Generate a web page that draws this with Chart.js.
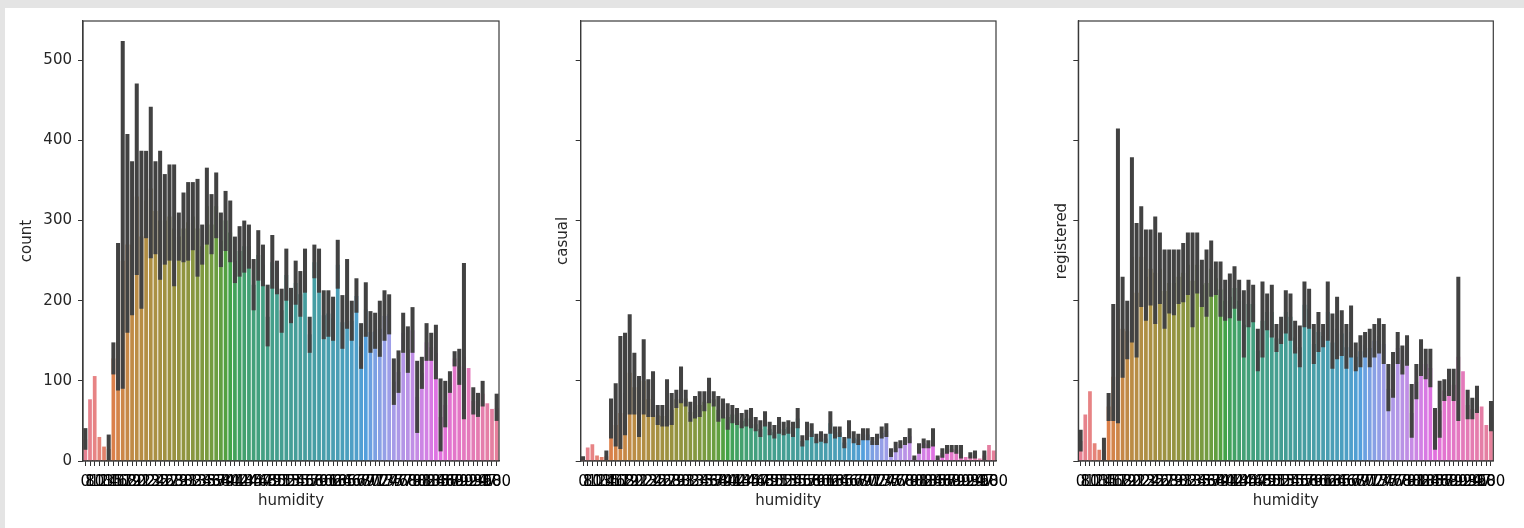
<!DOCTYPE html>
<html>
<head>
<meta charset="utf-8">
<script src="https://cdn.jsdelivr.net/npm/chart.js@4/dist/chart.umd.min.js"></script>
<style>
  body { margin: 0; width: 1524px; height: 528px; overflow: hidden; position: relative; background: #e4e4e4; }
  #fig { position: absolute; left: 5px; top: 8px; right: 0; bottom: 0; background: #fff; }
  canvas { position: absolute; top: 0; }
</style>
</head>
<body>
<div id="fig"></div>
<canvas id="c1" width="530" height="528" style="left:0"></canvas>
<canvas id="c2" width="500" height="528" style="left:530px"></canvas>
<canvas id="c3" width="494" height="528" style="left:1030px"></canvas>
<script>
// humidity categories (x axis)
const humidity = [0, 8, 10, 12, 13, 14, 15, 16, 17, 18, 19, 20, 21, 22, 23, 24, 25, 26, 27, 28,
  29, 30, 31, 32, 33, 34, 35, 36, 37, 38, 39, 40, 41, 42, 43, 44, 45, 46, 47, 48,
  49, 50, 51, 52, 53, 54, 55, 56, 57, 58, 59, 60, 61, 62, 63, 64, 65, 66, 67, 68,
  69, 70, 71, 72, 73, 74, 75, 76, 77, 78, 79, 80, 81, 82, 83, 84, 85, 86, 87, 88,
  89, 90, 92, 93, 94, 96, 97, 98, 100];

// mean rentals per humidity value, with 95% CI (null = single observation)
const countMean = [27, 77, 106, 30, 18, 15, 128, 150, 250, 270, 270, 330, 280, 325, 340, 312, 300, 300, 305, 290,
  280, 290, 298, 305, 290, 268, 318, 295, 318, 275, 300, 285, 250, 262, 268, 268, 220, 257, 245, 180,
  248, 230, 188, 232, 195, 222, 208, 238, 158, 248, 238, 182, 184, 178, 245, 173, 208, 175, 206, 143,
  189, 161, 162, 165, 181, 183, 99, 111, 160, 139, 163, 80, 110, 148, 142, 135, 55, 70, 98, 128,
  118, 130, 116, 75, 70, 84, 72, 65, 66];
const countLo = [14, null, null, null, null, 0, 108, 88, 90, 160, 182, 232, 190, 278, 253, 258, 226, 245, 250, 218,
  250, 248, 250, 263, 230, 245, 270, 258, 278, 242, 262, 248, 222, 230, 235, 240, 188, 225, 218, 143,
  215, 208, 160, 200, 172, 195, 180, 210, 135, 228, 210, 152, 155, 150, 215, 140, 165, 150, 185, 115,
  155, 135, 140, 130, 150, 158, 70, 85, 135, 110, 135, 35, 90, 125, 125, 102, 12, 42, 85, 118,
  95, 52, null, 58, 55, 68, null, null, 50];
const countHi = [41, null, null, null, null, 33, 148, 272, 524, 408, 374, 471, 387, 387, 442, 374, 387, 358, 370, 370,
  310, 335, 348, 348, 352, 295, 366, 333, 360, 310, 337, 325, 280, 293, 300, 295, 252, 288, 270, 220,
  282, 250, 215, 265, 216, 250, 237, 265, 180, 270, 265, 213, 213, 205, 276, 207, 252, 200, 228, 172,
  223, 187, 185, 200, 213, 208, 128, 138, 185, 168, 192, 125, 130, 172, 160, 170, 103, 100, 112, 137,
  140, 247, null, 92, 85, 100, null, null, 84];

const casualMean = [3, 17, 21, 7, 5, 6, 50, 45, 60, 85, 110, 92, 62, 100, 77, 82, 57, 56, 70, 64,
  77, 94, 78, 61, 67, 70, 74, 88, 77, 64, 65, 55, 58, 55, 50, 53, 53, 46, 40, 52,
  40, 36, 44, 40, 42, 39, 53, 25, 37, 38, 28, 30, 28, 47, 35, 36, 23, 39, 29, 27,
  33, 33, 25, 27, 35, 38, 10, 17, 21, 25, 31, 4, 15, 22, 21, 29, 4, 10, 14, 15,
  14, 11, 5, 7, 8, 3, 7, 20, 13];
const casualLo = [1, null, null, null, null, 1, 28, 18, 15, 32, 58, 58, 30, 58, 55, 55, 45, 43, 43, 45,
  66, 72, 68, 49, 53, 55, 62, 72, 68, 49, 53, 39, 47, 45, 41, 43, 41, 37, 30, 43,
  32, 28, 34, 32, 34, 30, 41, 18, 26, 30, 22, 24, 22, 34, 28, 30, 16, 28, 22, 20,
  26, 26, 20, 20, 28, 30, 5, 11, 16, 20, 22, 1, 9, 16, 16, 18, 1, 4, 9, 11,
  9, 3, null, 3, 3, null, 1, null, null];
const casualHi = [6, null, null, null, null, 13, 78, 97, 156, 160, 183, 135, 106, 152, 102, 112, 70, 70, 102, 85,
  89, 118, 89, 74, 81, 87, 87, 104, 87, 81, 78, 72, 70, 66, 60, 64, 66, 55, 51, 62,
  49, 45, 55, 49, 51, 49, 66, 32, 49, 47, 34, 37, 34, 62, 43, 43, 30, 51, 37, 34,
  41, 41, 30, 34, 43, 47, 16, 24, 26, 30, 41, 7, 22, 28, 26, 41, 7, 16, 20, 20,
  20, 20, null, 11, 13, null, 13, null, null];

const registeredMean = [25, 58, 87, 22, 14, 13, 68, 105, 190, 165, 162, 255, 210, 255, 230, 240, 235, 240, 212, 222,
  222, 230, 235, 245, 225, 245, 220, 222, 240, 228, 214, 200, 205, 216, 200, 170, 196, 196, 138, 175,
  186, 186, 153, 163, 186, 180, 154, 142, 195, 190, 146, 161, 156, 186, 148, 165, 159, 142, 161, 130,
  137, 145, 141, 150, 156, 146, 90, 107, 141, 126, 138, 60, 99, 129, 121, 116, 38, 63, 88, 98,
  95, 130, 112, 70, 65, 77, 68, 45, 55];
const registeredLo = [12, null, null, null, null, 0, 50, 50, 47, 104, 127, 148, 129, 192, 175, 194, 171, 196, 165, 184,
  182, 196, 198, 207, 167, 209, 192, 180, 205, 207, 180, 175, 178, 190, 175, 129, 167, 173, 112, 129,
  163, 154, 136, 146, 159, 150, 134, 117, 167, 165, 121, 136, 142, 150, 115, 127, 131, 115, 129, 112,
  117, 129, 117, 129, 134, 121, 62, 79, 121, 108, 119, 29, 77, 106, 102, 92, 14, 29, 75, 81,
  75, 50, null, 52, 52, 60, null, null, 37];
const registeredHi = [39, null, null, null, null, 29, 85, 196, 415, 230, 200, 379, 297, 318, 289, 289, 305, 285, 264, 264,
  264, 264, 272, 285, 285, 285, 251, 264, 275, 249, 249, 226, 234, 243, 226, 213, 226, 220, 165, 224,
  209, 220, 171, 180, 213, 209, 175, 169, 224, 215, 171, 186, 171, 224, 184, 205, 188, 171, 194, 148,
  157, 161, 165, 171, 178, 171, 121, 136, 161, 144, 157, 96, 121, 152, 140, 140, 66, 100, 102, 115,
  115, 230, null, 89, 79, 94, null, null, 75];

const yMax = 549;
const yTicks = [0, 100, 200, 300, 400, 500];

// seaborn-style husl palette, desaturated to 0.75
const M = [[3.2406, -1.5372, -0.4986], [-0.9689, 1.8758, 0.0415], [0.0557, -0.2040, 1.0570]];
function maxChroma(L, H) {
  const hr = H / 180 * Math.PI, sinH = Math.sin(hr), cosH = Math.cos(hr);
  const sub1 = Math.pow(L + 16, 3) / 1560896;
  const sub2 = sub1 > 0.008856 ? sub1 : L / 903.3;
  let best = Infinity;
  for (const [m1, m2, m3] of M) {
    const top = (0.99915 * m1 + 1.05122 * m2 + 1.14460 * m3) * sub2;
    const rb = 0.86330 * m3 - 0.17266 * m2;
    const lb = 0.12949 * m3 - 0.38848 * m1;
    const bottom = (rb * sinH + lb * cosH) * sub2;
    for (const t of [0, 1]) {
      const C = L * (top - 1.05122 * t) / (bottom + 0.17266 * sinH * t);
      if (C > 0 && C < best) best = C;
    }
  }
  return best;
}
function huslToRgb(H, S, L) {
  const C = maxChroma(L, H) / 100 * S;
  const hr = H / 180 * Math.PI;
  const U = Math.cos(hr) * C, V = Math.sin(hr) * C;
  const t = (L + 16) / 116;
  const Y = t * t * t > 0.008856 ? t * t * t : (116 * t - 16) / 903.3;
  const vu = U / (13 * L) + 0.19784, vv = V / (13 * L) + 0.46834;
  const X = -(9 * Y * vu) / ((vu - 4) * vv - vu * vv);
  const Z = (9 * Y - 15 * vv * Y - vv * X) / (3 * vv);
  return M.map(r => {
    let c = r[0] * X + r[1] * Y + r[2] * Z;
    c = c <= 0.0031308 ? 12.92 * c : 1.055 * Math.pow(c, 1 / 2.4) - 0.055;
    return Math.min(1, Math.max(0, c));
  });
}
function rgbToHls(r, g, b) {
  const mx = Math.max(r, g, b), mn = Math.min(r, g, b);
  const l = (mx + mn) / 2;
  if (mx === mn) return [0, l, 0];
  const s = l <= 0.5 ? (mx - mn) / (mx + mn) : (mx - mn) / (2 - mx - mn);
  const rc = (mx - r) / (mx - mn), gc = (mx - g) / (mx - mn), bc = (mx - b) / (mx - mn);
  let h = r === mx ? bc - gc : g === mx ? 2 + rc - bc : 4 + gc - rc;
  h = ((h / 6) % 1 + 1) % 1;
  return [h, l, s];
}
function hlsToRgb(h, l, s) {
  if (s === 0) return [l, l, l];
  const m2 = l <= 0.5 ? l * (1 + s) : l + s - l * s;
  const m1 = 2 * l - m2;
  const v = hue => {
    hue = ((hue % 1) + 1) % 1;
    if (hue < 1 / 6) return m1 + (m2 - m1) * hue * 6;
    if (hue < 0.5) return m2;
    if (hue < 2 / 3) return m1 + (m2 - m1) * (2 / 3 - hue) * 6;
    return m1;
  };
  return [v(h + 1 / 3), v(h), v(h - 1 / 3)];
}
function palette(n) {
  const out = [];
  for (let i = 0; i < n; i++) {
    const h = ((i / n + 0.01) % 1) * 359;
    const [r, g, b] = huslToRgb(h, 0.9 * 99, 0.65 * 99);
    const [hh, ll, ss] = rgbToHls(r, g, b);
    const c = hlsToRgb(hh, ll, ss * 0.75);
    out.push('rgb(' + c.map(v => Math.round(v * 255)).join(',') + ')');
  }
  return out;
}
const barColors = palette(humidity.length);

const FONT = { family: 'DejaVu Sans', size: 15 };

// matplotlib-style frame on all four sides
const boxPlugin = {
  id: 'box',
  afterDraw(chart) {
    const { ctx, chartArea: a } = chart;
    ctx.save();
    ctx.strokeStyle = '#3a3a3a';
    ctx.lineWidth = 1.2;
    ctx.strokeRect(a.left, a.top, a.right - a.left, a.bottom - a.top);
    ctx.restore();
  }
};

function panel(id, title, means, lo, hi, axisWidth, rightPad, titlePad, showLabels) {
  new Chart(document.getElementById(id), {
    type: 'bar',
    data: {
      labels: humidity.map(String),
      datasets: [
        {
          data: lo.map((v, i) => v == null ? null : [v, hi[i]]),
          backgroundColor: '#424242',
          barPercentage: 0.86,
          categoryPercentage: 1,
          grouped: false,
          order: 0
        },
        {
          data: means,
          backgroundColor: barColors,
          barPercentage: 0.8,
          categoryPercentage: 1,
          grouped: false,
          order: 1
        }
      ]
    },
    options: {
      responsive: false,
      animation: false,
      events: [],
      layout: { padding: { top: 21, right: rightPad, bottom: 0, left: 0 } },
      plugins: { legend: { display: false }, tooltip: { enabled: false } },
      scales: {
        x: {
          offset: true,
          grid: { display: true, offset: false, drawOnChartArea: false, drawTicks: true, tickLength: 5, color: '#333' },
          border: { display: true, color: '#3a3a3a', width: 1.2 },
          ticks: { autoSkip: false, maxRotation: 0, minRotation: 0, font: FONT, color: '#000', padding: 7 },
          title: { display: true, text: 'humidity', font: FONT, color: '#262626', padding: { top: 0, bottom: 18 } },
          afterFit(s) { s.height = 67; s.paddingLeft = 0; s.paddingRight = 0; }
        },
        y: {
          min: 0,
          max: yMax,
          bounds: 'data',
          afterBuildTicks(s) { s.ticks = yTicks.map(v => ({ value: v })); },
          grid: { display: true, drawOnChartArea: false, drawTicks: true, tickLength: 5, color: '#333' },
          border: { display: true, color: '#3a3a3a', width: 1.2 },
          ticks: {
            font: FONT,
            color: '#262626',
            padding: 6,
            callback: v => showLabels ? v : ''
          },
          title: { display: true, text: title, font: FONT, color: '#262626', padding: { top: titlePad, bottom: 0 } },
          afterFit(s) { s.width = axisWidth; s.paddingTop = 0; s.paddingBottom = 0; }
        }
      }
    },
    plugins: [boxPlugin]
  });
}

panel('c1', 'count', countMean, countLo, countHi, 83, 31, 18, true);
panel('c2', 'casual', casualMean, casualLo, casualHi, 50.7, 34, 24, false);
panel('c3', 'registered', registeredMean, registeredLo, registeredHi, 48.3, 30.7, 23, false);
</script>
</body>
</html>
